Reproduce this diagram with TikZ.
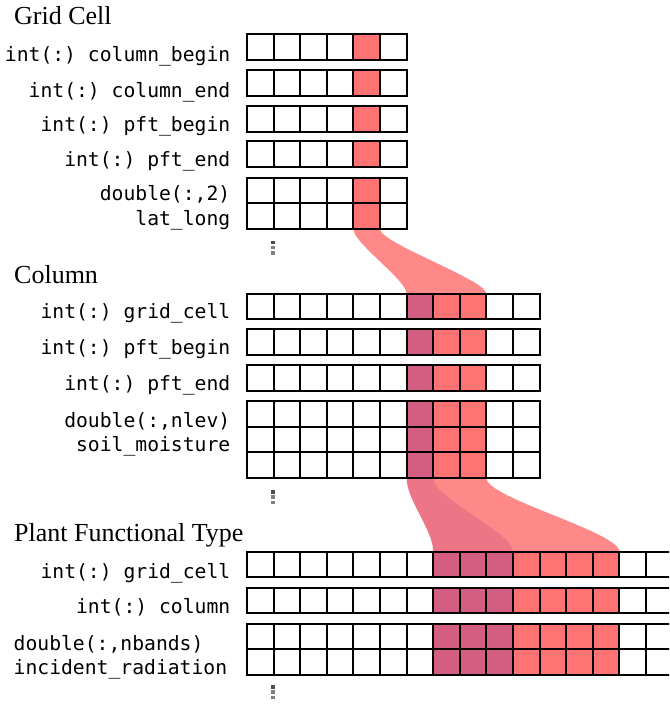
\documentclass[tikz,border=0pt]{standalone}
\usepackage{fontspec}
\setmainfont{Liberation Serif}
\setmonofont{DejaVu Sans Mono}
\definecolor{hired}{HTML}{FF7373}
\definecolor{hipink}{HTML}{D45E82}
\definecolor{ribpink}{HTML}{E95D71}
\newcommand\cellw{26.6}
\newcommand\cellh{25.7}
\newcommand\xorig{247}
% \cellrow{top}{subrows}{ncells}
\newcommand\cellrow[3]{%
  \foreach \rr in {1,...,#2}{%
    \foreach \cc in {1,...,#3}{%
      \draw[cellbox] ({\xorig+(\cc-1)*\cellw},{#1+(\rr-1)*\cellh}) rectangle +(\cellw,\cellh);
    }}}
% \hlcells{top}{subrows}{x1}{x2}{colour}
\newcommand\hlcells[5]{\fill[#5] (#3,#1) rectangle (#4,{#1+#2*\cellh});}
% \vdots at x, top y
\newcommand\mydots[2]{%
  \fill[black!70] (#1,#2) rectangle +(3.6,3.6);
  \fill[black!50] (#1,{#2+5.3}) rectangle +(3.6,3.6);
  \fill[black!50] (#1,{#2+10.6}) rectangle +(3.6,3.6);}
\tikzset{
  title/.style={anchor=base west, inner sep=0pt, font=\fontsize{26}{30}\selectfont},
  lbl/.style={anchor=base east, inner sep=0pt, font=\ttfamily\fontsize{19.7}{24}\selectfont},
  lblw/.style={anchor=base west, inner sep=0pt, font=\ttfamily\fontsize{19.7}{24}\selectfont},
  cellbox/.style={draw=black, line width=1.9pt},
  ribbonred/.style={fill=hired, fill opacity=0.85},
  ribbonpink/.style={fill=ribpink, fill opacity=0.85}
}
\begin{document}
\begin{tikzpicture}[x=1pt,y=-1pt]
\useasboundingbox (0,0) rectangle (669,706);
\clip (0,0) rectangle (669,706);

% ---------- ribbons ----------
\fill[ribbonred] (353.4,229.1) .. controls (353.4,243) and (406.6,280) .. (406.6,293.7)
  -- (486.4,293.7) .. controls (486.4,280) and (380,243) .. (380,229.1) -- cycle;
\fill[ribbonred] (433.2,478.1) .. controls (433.2,498) and (513,532) .. (513,551.7)
  -- (619.4,551.7) .. controls (619.4,532) and (486.4,498) .. (486.4,478.1) -- cycle;
\fill[ribbonpink] (406.6,478.1) .. controls (406.6,500) and (433.2,530) .. (433.2,551.7)
  -- (513,551.7) .. controls (513,532) and (433.2,498) .. (433.2,478.1) -- cycle;

% ---------- Grid Cell ----------
\node[title] (tgrid) at (14,25) {Grid Cell};
\foreach \t/\n in {34.3/1,70.3/1,106.3/1,141.3/1,177.7/2}{
  \hlcells{\t}{\n}{353.4}{380}{hired}
  \cellrow{\t}{\n}{6}
}
\node[lbl] (g1) at (230.5,61.7) {int(:) column\_begin};
\node[lbl] (g2) at (230.5,97.7) {int(:) column\_end};
\node[lbl] (g3) at (230.5,131.7) {int(:) pft\_begin};
\node[lbl] (g4) at (230.5,166.7) {int(:) pft\_end};
\node[lbl] (g5) at (230.5,200) {double(:,2)};
\node[lbl] (g6) at (230.5,225) {lat\_long};
\mydots{271.2}{240.5}

% ---------- Column ----------
\node[title] (tcol) at (14,283) {Column};
\foreach \t/\n in {293.7/1,329.3/1,365/1,401/3}{
  \hlcells{\t}{\n}{406.6}{433.2}{hipink}
  \hlcells{\t}{\n}{433.2}{486.4}{hired}
  \cellrow{\t}{\n}{11}
}
\node[lbl] (c1) at (230.5,318) {int(:) grid\_cell};
\node[lbl] (c2) at (230.5,354) {int(:) pft\_begin};
\node[lbl] (c3) at (230.5,390) {int(:) pft\_end};
\node[lbl] (c4) at (230.5,427.3) {double(:,nlev)};
\node[lbl] (c5) at (230.5,451.7) {soil\_moisture};
\mydots{271.2}{490}

% ---------- Plant Functional Type ----------
\node[title] (tpft) at (14,541) {Plant Functional Type};
\foreach \t/\n in {551.7/1,587.7/1,623.7/2}{
  \hlcells{\t}{\n}{433.2}{513}{hipink}
  \hlcells{\t}{\n}{513}{619.4}{hired}
  \cellrow{\t}{\n}{16}
}
\node[lbl] (p1) at (230.5,578) {int(:) grid\_cell};
\node[lbl] (p2) at (230.5,613.3) {int(:) column};
\node[lblw] (p3) at (13.5,650) {double(:,nbands)};
\node[lblw] (p4) at (13.5,674.3) {incident\_radiation};
\mydots{271.2}{685}
\end{tikzpicture}
\end{document}
